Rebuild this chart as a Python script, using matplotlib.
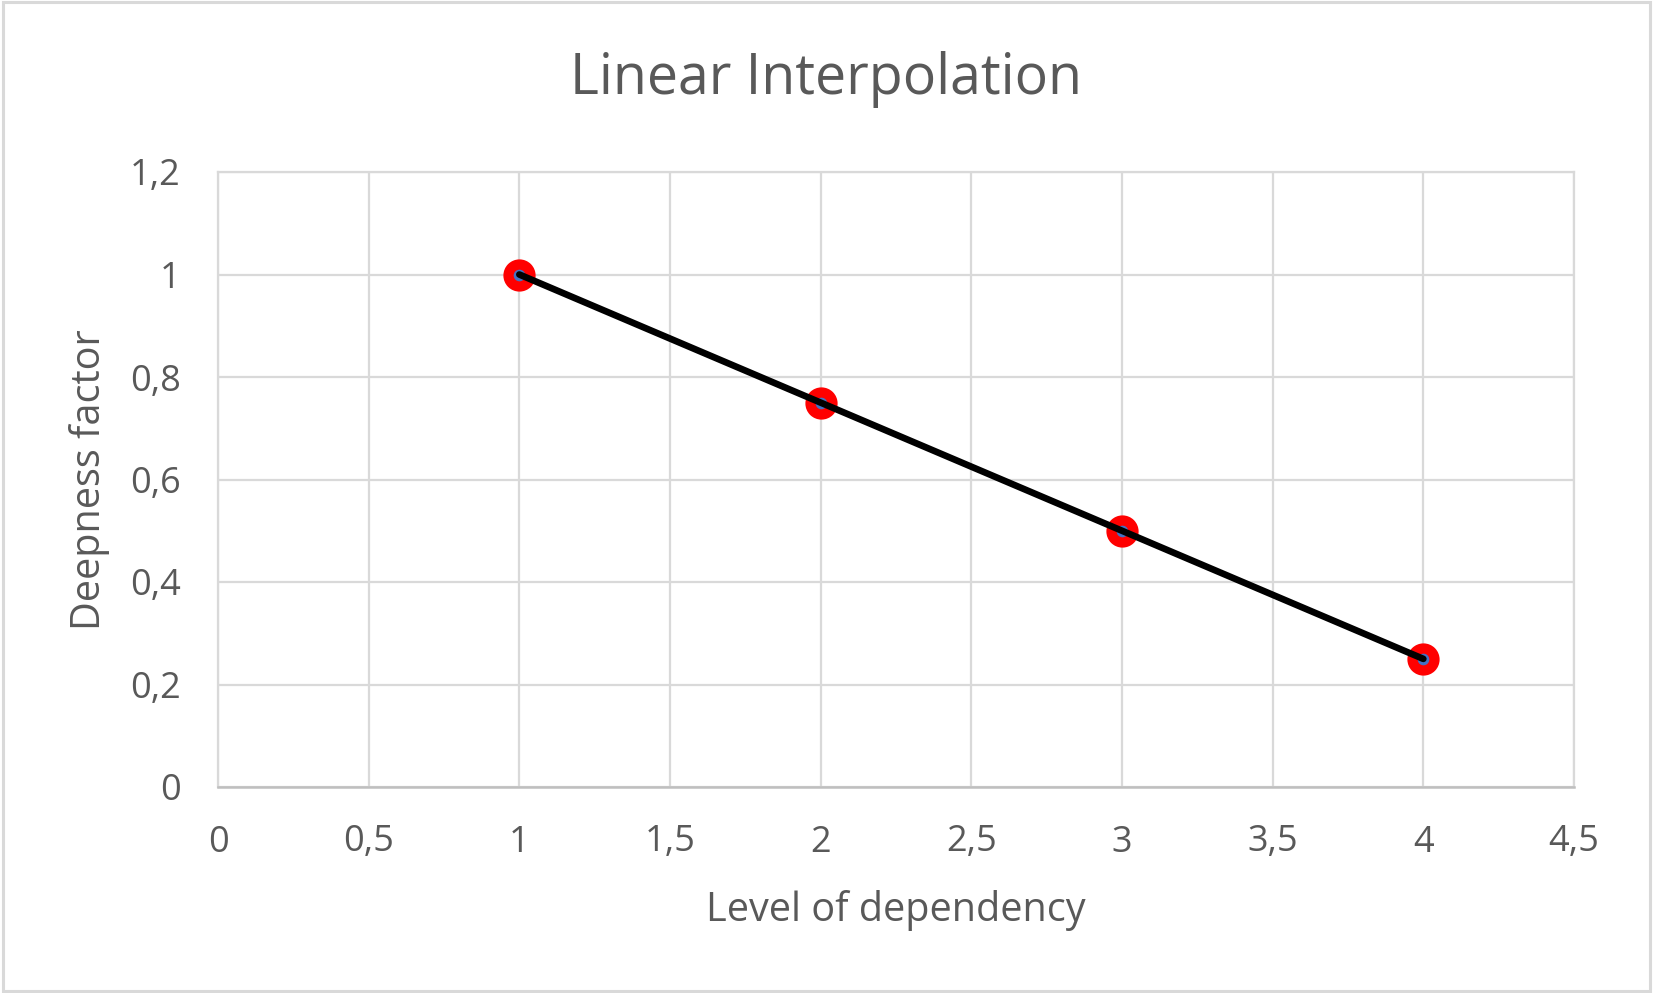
import matplotlib
matplotlib.use('Agg')
import matplotlib.pyplot as plt
from matplotlib.patches import Rectangle
from matplotlib.ticker import FuncFormatter

# data
levels = [1, 2, 3, 4]
deepness = [1.0, 0.75, 0.5, 0.25]
x_ticks = [0, 0.5, 1, 1.5, 2, 2.5, 3, 3.5, 4, 4.5]
y_ticks = [0, 0.2, 0.4, 0.6, 0.8, 1.0, 1.2]

plt.rcParams['font.family'] = ['Open Sans', 'DejaVu Sans']
text_grey = '#595959'
grid_grey = '#D9D9D9'

fig = plt.figure(figsize=(16.53, 9.93), dpi=100)
ax = fig.add_axes([218 / 1653, 1 - 787 / 993, 1356 / 1653, 615 / 993])

# markers first, line on top so the black line runs through the dot centres
ax.plot(levels, deepness, linestyle='none', marker='o', markersize=15.8,
        markerfacecolor='#4472C4', markeredgecolor='#FF0000',
        markeredgewidth=7.4, zorder=3)
ax.plot(levels, deepness, color='black', linewidth=4.8, zorder=4,
        solid_capstyle='round')

ax.set_xlim(0, 4.5)
ax.set_ylim(0, 1.2)
ax.set_xticks(x_ticks)
ax.set_yticks(y_ticks)
fmt = FuncFormatter(lambda v, p: ('%g' % v).replace('.', ','))
ax.xaxis.set_major_formatter(fmt)
ax.yaxis.set_major_formatter(fmt)
ax.tick_params(length=0, labelsize=26, colors=text_grey)
ax.tick_params(axis='x', pad=27)
ax.tick_params(axis='y', pad=27)

ax.grid(True, color=grid_grey, linewidth=1.6)
ax.set_axisbelow(True)
for side in ['left', 'top', 'right']:
    ax.spines[side].set_color(grid_grey)
    ax.spines[side].set_linewidth(1.6)
ax.spines['bottom'].set_color('#BFBFBF')
ax.spines['bottom'].set_linewidth(1.8)

ax.set_xlabel('Level of dependency', fontsize=28.5, color=text_grey, labelpad=21)
ax.set_ylabel('Deepness factor', fontsize=28.5, color=text_grey, labelpad=14)
fig.text(826 / 1653, 1 - 80 / 993, 'Linear Interpolation', fontsize=40,
         color=text_grey, ha='center', va='center')

# light chart-area border
fig.patches.append(Rectangle((0.002, 0.002), 0.996, 0.996, transform=fig.transFigure,
                             fill=False, edgecolor=grid_grey, linewidth=2.2))

fig.savefig('out.png', dpi=100, facecolor='white')
